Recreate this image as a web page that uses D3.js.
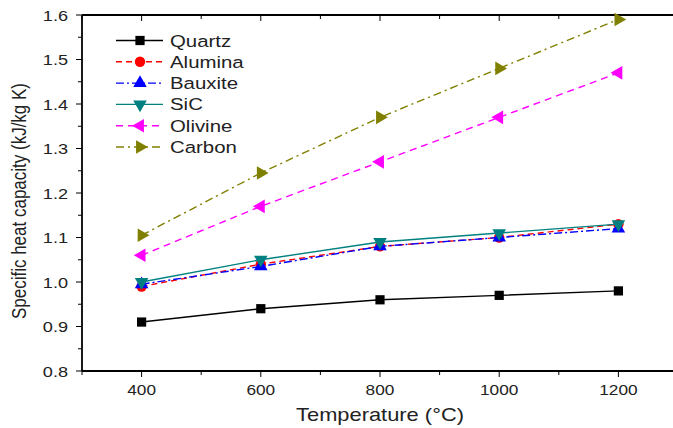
<!DOCTYPE html>
<html>
<head>
<meta charset="utf-8">
<script src="https://cdn.jsdelivr.net/npm/d3@7"></script>
<style>
  body { margin: 0; background: #fff; }
  svg { display: block; font-family: "Liberation Sans", Arial, sans-serif; }
</style>
</head>
<body>
<svg id="chart" width="673" height="428"></svg>
<script>
var temps = [400, 600, 800, 1000, 1200];
var quartz = [0.91, 0.94, 0.96, 0.97, 0.98];
var alumina = [0.99, 1.04, 1.08, 1.10, 1.13];
var bauxite = [0.995, 1.035, 1.08, 1.10, 1.12];
var sic = [1.0, 1.05, 1.09, 1.11, 1.13];
var olivine = [1.06, 1.17, 1.27, 1.37, 1.47];
var carbon = [1.105, 1.245, 1.37, 1.48, 1.59];
var xTicks = [400, 600, 800, 1000, 1200];
var yTicks = [0.8, 0.9, 1.0, 1.1, 1.2, 1.3, 1.4, 1.5, 1.6];

var series = [
  { name: "Quartz", values: quartz, color: "#000000", dash: null, symbol: d3.symbolSquare, rot: 0, size: 85 },
  { name: "Alumina", values: alumina, color: "#ff0000", dash: "6,4", symbol: d3.symbolCircle, rot: 0, size: 85 },
  { name: "Bauxite", values: bauxite, color: "#0000ff", dash: "8,3,2,3", symbol: d3.symbolTriangle, rot: 0, size: 80 },
  { name: "SiC", values: sic, color: "#008080", dash: null, symbol: d3.symbolTriangle, rot: 180, size: 80 },
  { name: "Olivine", values: olivine, color: "#ff00ff", dash: "7,5", symbol: d3.symbolTriangle, rot: -90, size: 80 },
  { name: "Carbon", values: carbon, color: "#808000", dash: "8,4,2,4", symbol: d3.symbolTriangle, rot: 90, size: 80 }
];

var svg = d3.select("#chart"),
  margin = { top: 15, left: 82, bottom: 371, right: 678 };

// the reference text is drawn a little wider than normal
var stretch = 1.2;

var x = d3.scaleLinear().domain([300, 1300]).range([margin.left, margin.right]),
  y = d3.scaleLinear().domain([0.8, 1.6]).range([margin.bottom, margin.top]);

// ticks (major + minor)
var g = svg.append("g").attr("stroke", "#000").attr("stroke-width", 1);
d3.range(300, 1301, 100).forEach(function(v) {
  var major = xTicks.indexOf(v) >= 0;
  var len = major ? 6 : 4;
  g.append("line").attr("x1", x(v)).attr("x2", x(v))
    .attr("y1", margin.bottom).attr("y2", margin.bottom + len);
  g.append("line").attr("x1", x(v)).attr("x2", x(v))
    .attr("y1", margin.top).attr("y2", margin.top + len);
});
d3.range(0, 17).forEach(function(i) {
  var v = 0.8 + i * 0.05;
  var len = i % 2 === 0 ? 6 : 4;
  g.append("line").attr("x1", margin.left - len).attr("x2", margin.left)
    .attr("y1", y(v)).attr("y2", y(v));
});

// frame
svg.append("line").attr("x1", margin.left).attr("x2", margin.right)
  .attr("y1", margin.top).attr("y2", margin.top).attr("stroke", "#000").attr("stroke-width", 1.8);
svg.append("line").attr("x1", margin.left).attr("x2", margin.right)
  .attr("y1", margin.bottom).attr("y2", margin.bottom).attr("stroke", "#000").attr("stroke-width", 1.8);
svg.append("line").attr("x1", margin.left).attr("x2", margin.left)
  .attr("y1", margin.top).attr("y2", margin.bottom).attr("stroke", "#000").attr("stroke-width", 1.8);

// tick labels
svg.append("g").selectAll("text").data(xTicks).join("text")
  .attr("transform", function(d) { return "translate(" + x(d) + "," + (margin.bottom + 24) + ") scale(1.15,1)"; })
  .attr("text-anchor", "middle")
  .attr("font-size", 15)
  .attr("fill", "#222")
  .text(function(d) { return d; });
svg.append("g").selectAll("text").data(yTicks).join("text")
  .attr("transform", function(d) { return "translate(" + (margin.left - 14) + "," + (y(d) + 5.5) + ") scale(1.25,1)"; })
  .attr("text-anchor", "end")
  .attr("font-size", 14.5)
  .attr("fill", "#222")
  .text(function(d) { return d.toFixed(1); });

// axis titles
svg.append("text").attr("transform", "translate(380,421) scale(1.25,1)").attr("text-anchor", "middle")
  .attr("font-size", 17.5).attr("fill", "#222").text("Temperature (\u00B0C)");
svg.append("text").attr("transform", "translate(26,201) scale(" + stretch + ",1) rotate(-90)").attr("text-anchor", "middle")
  .attr("font-size", 17).attr("fill", "#222").text("Specific heat capacity (kJ/kg K)");

// lines and markers
var line = d3.line()
  .x(function(d, i) { return x(temps[i]); })
  .y(function(d) { return y(d); });

series.forEach(function(s) {
  svg.append("path")
    .attr("d", line(s.values))
    .attr("fill", "none")
    .attr("stroke", s.color)
    .attr("stroke-width", 1.4)
    .attr("stroke-dasharray", s.dash);
  svg.append("g").selectAll("path").data(s.values).join("path")
    .attr("d", d3.symbol().type(s.symbol).size(s.size))
    .attr("transform", function(d, i) {
      return "translate(" + x(temps[i]) + "," + y(d) + ") rotate(" + s.rot + ")";
    })
    .attr("fill", s.color);
});

// legend
var legend = svg.append("g").attr("transform", "translate(116,40.5)");
series.forEach(function(s, i) {
  var row = legend.append("g").attr("transform", "translate(0," + i * 21.3 + ")");
  row.append("line").attr("x1", 0).attr("x2", 47).attr("y1", 0).attr("y2", 0)
    .attr("stroke", s.color).attr("stroke-width", 1.4).attr("stroke-dasharray", s.dash);
  row.append("path")
    .attr("d", d3.symbol().type(s.symbol).size(s.size))
    .attr("transform", "translate(24,0) rotate(" + s.rot + ")")
    .attr("fill", s.color);
  row.append("text").attr("transform", "translate(54,6) scale(" + stretch + ",1)")
    .attr("font-size", 17).attr("fill", "#222").text(s.name);
});
</script>
</body>
</html>
